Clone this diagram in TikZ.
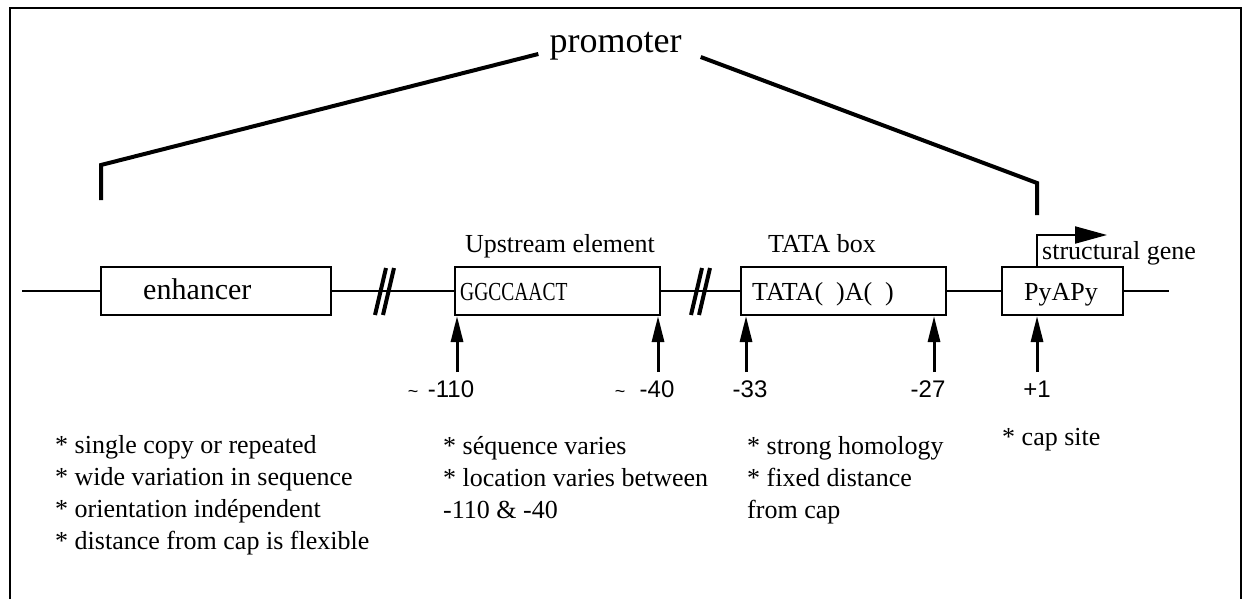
\documentclass[tikz,border=0pt]{standalone}
\usepackage{fontspec}
\setmainfont{Liberation Serif}
\newfontfamily\numfont{Liberation Sans}
\usepackage{graphicx}
\usetikzlibrary{arrows.meta, positioning, calc}

\begin{document}
\begin{tikzpicture}[
    x=1pt, y=-1pt,
    element/.style={draw=black, line width=2pt, minimum height=48pt, inner sep=0pt},
    boxtext/.style={font=\fontsize{26}{30}\selectfont, inner sep=0pt, anchor=base west},
    note/.style={font=\fontsize{26}{30}\selectfont, inner sep=0pt, anchor=base west},
    sitenum/.style={font=\numfont\fontsize{24}{28}\selectfont, inner sep=0pt, anchor=base},
    approx/.style={font=\numfont\fontsize{18}{20}\selectfont, inner sep=0pt},
    dna/.style={line width=2pt},
    bracket/.style={line width=4pt, line join=miter},
    site/.style={-{Triangle[length=26pt, width=12pt]}, line width=3pt},
    cut/.style={line width=4pt}
]

\useasboundingbox (0,0) rectangle (1246,599);

% Frame
\draw[line width=2.5pt] (10,599) -- (10,8) -- (1241,8) -- (1241,599);

% ===== Promoter bracket =====
\node[font=\fontsize{36}{40}\selectfont, inner sep=0pt] (prom) at (615.5,46) {promoter};
\coordinate (lc) at (101,165);
\coordinate (lf) at (101,200);
\coordinate (rc) at (1037,183);
\coordinate (rf) at (1037,215);
\draw[bracket] ([shift={(-11,8)}]prom.west) -- (lc) -- (lf);
\draw[bracket] ([shift={(19,11)}]prom.east) -- (rc) -- (rf);

% ===== Elements =====
\node[element, minimum width=230pt] (enh) at (216,291) {};
\node[element, minimum width=205pt] (ups) at (557.5,291) {};
\node[element, minimum width=205pt] (tata) at (843.5,291) {};
\node[element, minimum width=121pt] (cap) at (1062.5,291) {};

\node[boxtext, font=\fontsize{30}{34}\selectfont] (enhtxt) at (143,299) {enhancer};
\node[boxtext] (upstxt) at (460,300) {\scalebox{0.75}[1]{GGCCAACT}};
\node[boxtext] (tatatxt) at (752,300) {TATA(\ \ )A(\ \ )};
\node[boxtext] (captxt) at (1024,300) {PyAPy};

\node[note, anchor=base] (upslbl) at (560,252) {Upstream element};
\node[note, anchor=base] (tatalbl) at (822,252) {TATA box};

% DNA line
\coordinate (dnaL) at (22,291);
\coordinate (dnaR) at (1169,291);
\coordinate (brkA) at (384,291);
\coordinate (brkB) at (700,291);
\draw[dna] (dnaL) -- (enh.west);
\draw[dna] (enh.east) -- (ups.west);
\draw[dna] (ups.east) -- (tata.west);
\draw[dna] (tata.east) -- (cap.west);
\draw[dna] (cap.east) -- (dnaR);

% Breaks
\foreach \b in {brkA, brkB} {
    \draw[cut] ([shift={(-9,24)}]\b) -- ([shift={(2,-23)}]\b);
    \draw[cut] ([shift={(-1,24)}]\b) -- ([shift={(10,-23)}]\b);
}

% Transcription start
\coordinate (tss) at (1037,235);
\coordinate (tssend) at (1107,235);
\draw[line width=2pt, -{Triangle[length=32pt, width=17pt]}] (cap.north -| tss) -- (tss) -- (tssend);
\node[note] (sg) at (1042,259) {structural gene};

% ===== Positions =====
\foreach \x/\n in {457/a, 658/b, 746/c, 934/d, 1037/e}
    \coordinate (site\n) at (\x,372);
\draw[site] (sitea) -- (sitea |- ups.south);
\draw[site] (siteb) -- (siteb |- ups.south);
\draw[site] (sitec) -- (sitec |- tata.south);
\draw[site] (sited) -- (sited |- tata.south);
\draw[site] (sitee) -- (sitee |- cap.south);

\node[approx] (til1) at (413,394) {\textasciitilde};
\node[sitenum] (n110) at (451,397) {-110};
\node[approx] (til2) at (620,394) {\textasciitilde};
\node[sitenum] (n40) at (657,397) {-40};
\node[sitenum] (n33) at (750,397) {-33};
\node[sitenum] (n27) at (928,397) {-27};
\node[sitenum] (n1) at (1037,397) {+1};

% ===== Notes =====
\node[note] (e1) at (55,453) {* single copy or repeated};
\node[note] (e2) at (55,485) {* wide variation in sequence};
\node[note] (e3) at (55,517) {* orientation indépendent};
\node[note] (e4) at (55,549) {* distance from cap is flexible};

\node[note] (u1) at (443,454) {* séquence varies};
\node[note] (u2) at (443,486) {* location varies between};
\node[note] (u3) at (443,518) {-110 \& -40};

\node[note] (t1) at (747,454) {* strong homology};
\node[note] (t2) at (747,486) {* fixed distance};
\node[note] (t3) at (747,518) {from cap};

\node[note] (c1) at (1002,445) {* cap site};

\end{tikzpicture}
\end{document}
